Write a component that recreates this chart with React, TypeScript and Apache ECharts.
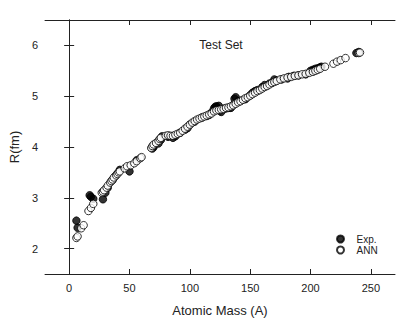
import React, { useEffect, useRef } from "react";
import * as echarts from "echarts";

const xTicks = [0, 50, 100, 150, 200, 250];
const yTicks = [2, 3, 4, 5, 6];

const expMass = [6, 7, 17, 18, 20, 28, 30, 32, 36, 38, 40, 42, 50, 56, 69, 70, 74, 76, 77, 82, 86, 88, 92, 96, 98, 100, 104, 110, 114, 116, 118, 120, 121, 122, 124, 125, 126, 128, 130, 132, 134, 136, 137, 138, 140, 142, 146, 150, 152, 154, 156, 160, 162, 166, 168, 170, 172, 176, 181, 182, 186, 190, 196, 200, 202, 204, 206, 208, 209, 238, 240];
const expRadius = [2.55, 2.41, 3.05, 3.02, 2.98, 2.97, 3.1, 3.2, 3.35, 3.42, 3.48, 3.55, 3.52, 3.74, 3.97, 4.0, 4.07, 4.14, 4.21, 4.2, 4.18, 4.21, 4.28, 4.34, 4.37, 4.44, 4.5, 4.58, 4.61, 4.63, 4.68, 4.76, 4.79, 4.8, 4.81, 4.72, 4.69, 4.75, 4.76, 4.77, 4.77, 4.83, 4.95, 4.98, 4.9, 4.91, 4.94, 5.02, 5.07, 5.1, 5.12, 5.18, 5.22, 5.25, 5.26, 5.33, 5.31, 5.33, 5.35, 5.38, 5.4, 5.41, 5.43, 5.5, 5.52, 5.54, 5.55, 5.57, 5.58, 5.85, 5.87];

const annMass = [6, 7, 10, 12, 16, 18, 20, 27, 28, 29, 31, 32, 34, 35, 36, 37, 39, 40, 41, 42, 46, 48, 51, 54, 56, 59, 60, 68, 69, 70, 72, 74, 75, 76, 80, 82, 84, 86, 88, 90, 92, 94, 96, 98, 100, 102, 104, 106, 108, 110, 112, 114, 116, 118, 120, 122, 124, 126, 128, 130, 132, 134, 136, 138, 140, 142, 144, 146, 148, 150, 152, 154, 156, 158, 160, 162, 164, 166, 168, 170, 172, 175, 178, 181, 184, 187, 190, 193, 196, 199, 202, 204, 206, 208, 212, 219, 222, 225, 229, 240, 241];
const annRadius = [2.21, 2.24, 2.4, 2.46, 2.74, 2.8, 2.88, 3.1, 3.12, 3.15, 3.2, 3.24, 3.3, 3.33, 3.36, 3.4, 3.44, 3.47, 3.5, 3.52, 3.58, 3.62, 3.64, 3.68, 3.72, 3.78, 3.8, 3.98, 4.02, 4.05, 4.08, 4.12, 4.16, 4.18, 4.22, 4.23, 4.22, 4.22, 4.24, 4.26, 4.28, 4.32, 4.36, 4.4, 4.44, 4.48, 4.51, 4.54, 4.56, 4.58, 4.6, 4.62, 4.64, 4.66, 4.7, 4.72, 4.73, 4.74, 4.75, 4.77, 4.78, 4.8, 4.82, 4.85, 4.88, 4.9, 4.93, 4.96, 4.98, 5.01, 5.04, 5.07, 5.1, 5.12, 5.15, 5.18, 5.2, 5.23, 5.26, 5.28, 5.3, 5.33, 5.35, 5.37, 5.38, 5.4, 5.41, 5.43, 5.44, 5.46, 5.48, 5.5, 5.52, 5.54, 5.58, 5.64, 5.68, 5.71, 5.75, 5.85, 5.86];

const FONT = "'Liberation Sans', Arial, sans-serif";
const INK = "#222";

export default function App() {
  const ref = useRef<HTMLDivElement>(null);
  useEffect(() => {
    if (!ref.current) return;
    const chart = echarts.init(ref.current, null, { renderer: "svg" });
    const axisLine = { show: true, lineStyle: { color: INK, width: 1 } };
    const tick = (vals: number[]) => ({ show: true, inside: true, length: 5, customValues: vals, lineStyle: { color: INK } });
    chart.setOption({
      animation: false,
      textStyle: { fontFamily: FONT },
      grid: { left: 40, right: 20, top: 20, bottom: 47 },
      graphic: [
        {
          type: "text",
          x: 221,
          y: 45,
          style: { text: "Test Set", fontFamily: FONT, fontSize: 12, fill: INK, textAlign: "center", textVerticalAlign: "middle" },
        },
      ],
      legend: {
        orient: "vertical",
        left: 331,
        top: 229,
        itemWidth: 22,
        itemHeight: 7,
        itemGap: 1,
        icon: "circle",
        textStyle: { fontFamily: FONT, fontSize: 10, color: INK },
        data: ["Exp.", "ANN"],
      },
      xAxis: [
        {
          type: "value",
          min: -20,
          max: 270,
          position: "bottom",
          name: "Atomic Mass (A)",
          nameLocation: "middle",
          nameGap: 30,
          nameTextStyle: { fontFamily: FONT, fontSize: 13, color: INK },
          axisLine,
          axisTick: tick(xTicks),
          axisLabel: { customValues: xTicks, fontFamily: FONT, fontSize: 11, color: INK, margin: 8 },
          splitLine: { show: false },
        },
        {
          type: "value",
          min: -20,
          max: 270,
          position: "top",
          axisLine,
          axisTick: tick(xTicks),
          axisLabel: { show: false },
          splitLine: { show: false },
        },
      ],
      yAxis: [
        {
          type: "value",
          min: 1.5,
          max: 6.5,
          position: "left",
          name: "R(fm)",
          nameLocation: "middle",
          nameGap: 24,
          nameTextStyle: { fontFamily: FONT, fontSize: 13, color: INK },
          axisLine,
          axisTick: tick(yTicks),
          axisLabel: { customValues: yTicks, fontFamily: FONT, fontSize: 11, color: INK, margin: 7 },
          splitLine: { show: false },
        },
        {
          type: "value",
          min: 1.5,
          max: 6.5,
          position: "right",
          axisLine,
          axisTick: tick(yTicks),
          axisLabel: { show: false },
          splitLine: { show: false },
        },
      ],
      series: [
        {
          name: "Exp.",
          type: "scatter",
          symbol: "circle",
          symbolSize: 7.5,
          itemStyle: { color: "#000", borderColor: "#000", borderWidth: 1 },
          data: expMass.map((a, i) => [a, expRadius[i]]),
        },
        {
          name: "ANN",
          type: "scatter",
          symbol: "circle",
          symbolSize: 7.5,
          itemStyle: { color: "#fff", borderColor: "#000", borderWidth: 1 },
          data: annMass.map((a, i) => [a, annRadius[i]]),
        },
      ],
    });
    return () => chart.dispose();
  }, []);
  return <div ref={ref} style={{ width: 415, height: 322, position: "absolute", left: 0, top: 0 }} />;
}
